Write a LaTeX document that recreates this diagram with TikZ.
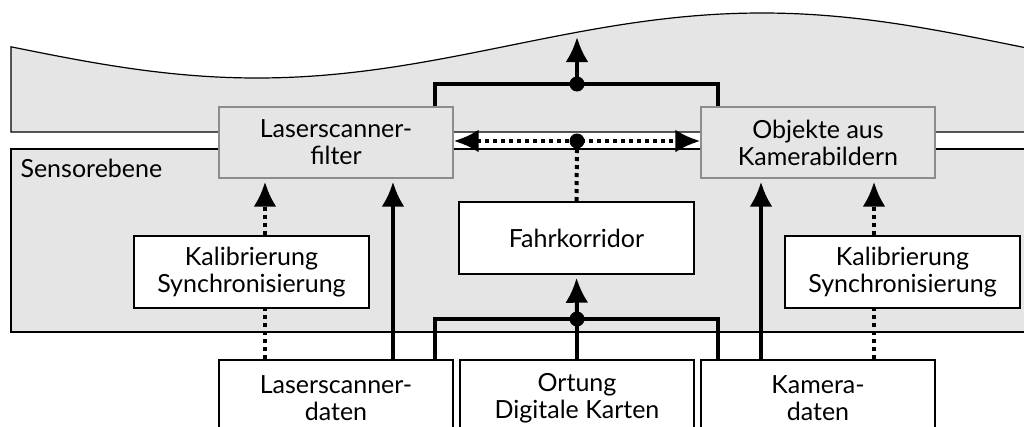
\documentclass[tikz,border=0pt]{standalone}
\usepackage{fontspec}
\setmainfont{Lato}
\usetikzlibrary{arrows.meta,calc}

\definecolor{layergray}{HTML}{E5E5E5}
\definecolor{framegray}{HTML}{8C8C8C}

\tikzset{
  layer/.style={draw=black, line width=1.2pt, fill=layergray},
  labeltext/.style={font=\fontsize{25}{27}\selectfont},
  box/.style={draw=black, line width=1.4pt, fill=white, align=center,
    inner sep=0pt, labeltext},
  filterbox/.style={box, draw=framegray, fill=layergray},
  flow/.style={line width=4pt},
  dotflow/.style={line width=4pt, dash pattern=on 4pt off 4pt},
  tip/.style={-{Latex[length=25pt,width=23pt]}, shorten >=3pt},
  bothtips/.style={{Latex[length=25pt,width=23pt]}-{Latex[length=25pt,width=23pt]}},
  joint/.style={circle, fill=black, inner sep=0pt, minimum size=15pt},
}

\begin{document}
\begin{tikzpicture}[x=1pt, y=-1pt]
  \useasboundingbox (0,0) rectangle (1024,426);
  \clip (0,0) rectangle (1024,426);

  % upper layer with wavy top edge
  \draw[layer] (11,132)
    -- plot[domain=11:1040, samples=120, smooth] (\x, {45.5+32.5*cos(0.356436*(\x-257))})
    -- (1040,132) -- cycle;
  % sensor layer
  \draw[layer] (11,149) rectangle (1040,332);
  \node[anchor=base west, labeltext] (sens) at (17,177) {Sensorebene};

  % processing blocks
  \node[filterbox, minimum width=234pt, minimum height=71pt] (lsf) at (336,142.5) {Laserscanner-\\filter};
  \node[filterbox, minimum width=234pt, minimum height=71pt] (obj) at (818,142.5) {Objekte aus\\Kamerabildern};
  \node[box, minimum width=235pt, minimum height=72pt] (fk) at (576.5,238) {Fahrkorridor};
  \node[box, minimum width=235pt, minimum height=72pt] (kal1) at (251.5,272) {Kalibrierung\\Synchronisierung};
  \node[box, minimum width=235pt, minimum height=72pt] (kal2) at (902.5,272) {Kalibrierung\\Synchronisierung};

  % input data
  \node[box, minimum width=234pt, minimum height=76pt] (lsd) at (336,398) {Laserscanner-\\daten};
  \node[box, minimum width=234pt, minimum height=76pt] (ort) at (577,398) {Ortung\\Digitale Karten};
  \node[box, minimum width=234pt, minimum height=76pt] (kam) at (818,398) {Kamera-\\daten};

  % column positions of the connectors
  \coordinate (xa) at (265,0);
  \coordinate (xb) at (393,0);
  \coordinate (xc) at (435,0);
  \coordinate (xd) at (718,0);
  \coordinate (xe) at (761,0);
  \coordinate (xf) at (874,0);

  % junctions
  \coordinate (jlow) at (577,319);
  \coordinate (jtop) at (577,84);
  \coordinate (jmid) at (577,141);
  \coordinate (out) at (577,37);

  % calibration paths (dotted)
  \draw[dotflow] (lsd.north -| xa) -- (kal1.south -| xa);
  \draw[dotflow, tip] (kal1.north -| xa) -- (lsf.south -| xa);
  \draw[dotflow] (kam.north -| xf) -- (kal2.south -| xf);
  \draw[dotflow, tip] (kal2.north -| xf) -- (obj.south -| xf);

  % direct data paths
  \draw[flow, tip] (lsd.north -| xb) -- (lsf.south -| xb);
  \draw[flow, tip] (kam.north -| xe) -- (obj.south -| xe);

  % lower bus into the driving corridor
  \draw[flow] (lsd.north -| xc) |- (jlow) -| (kam.north -| xd);
  \draw[flow] (ort.north) -- (jlow);
  \draw[flow, tip] (jlow) -- (fk.south);
  \node[joint] (dlow) at (jlow) {};

  % upper bus to the output
  \draw[flow] (lsf.north -| xc) |- (jtop) -| (obj.north -| xd);
  \draw[flow, -{Latex[length=25pt,width=23pt]}] (jtop) -- (out);
  \node[joint] (dtop) at (jtop) {};

  % exchange between the filters
  \draw[dotflow, bothtips] (lsf.east |- jmid) -- (obj.west |- jmid);
  \draw[dotflow] (jmid) -- (fk.north);
  \node[joint] (dmid) at (jmid) {};
\end{tikzpicture}
\end{document}
